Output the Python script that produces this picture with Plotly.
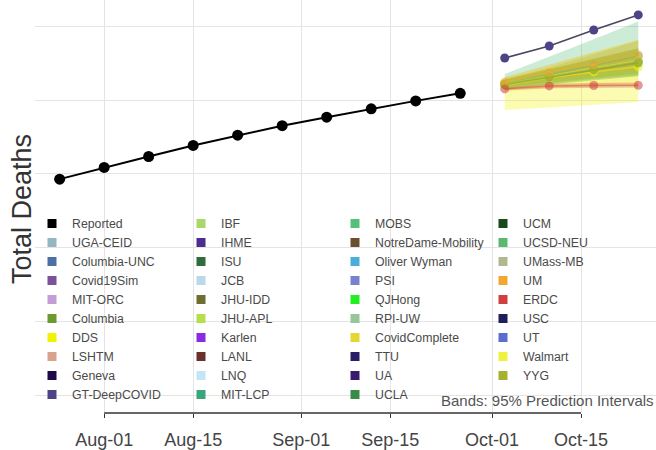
import plotly.graph_objects as go

# ---------------- data ----------------
reported_dates = ["2020-07-25", "2020-08-01", "2020-08-08", "2020-08-15", "2020-08-22",
                  "2020-08-29", "2020-09-05", "2020-09-12", "2020-09-19", "2020-09-26"]
reported_deaths = [146500, 154400, 161800, 169300, 176200, 182600, 188400, 194000, 199400, 204500]

forecast_dates = ["2020-10-03", "2020-10-10", "2020-10-17", "2020-10-24"]

fc_models = ["MOBS", "UCSD-NEU", "DDS", "Walmart", "Columbia", "YYG", "UM", "ERDC", "GT-DeepCOVID"]
fc_point = {
    "MOBS":        [211000, 217500, 223500, 229500],
    "UCSD-NEU":    [210500, 216000, 221000, 226000],
    "DDS":         [210000, 215000, 219000, 222500],
    "Walmart":     [211000, 216500, 221500, 226500],
    "Columbia":    [210500, 215500, 220500, 225000],
    "YYG":         [210800, 216000, 221000, 226000],
    "UM":          [212000, 218500, 224000, 230500],
    "ERDC":        [207500, 209500, 209800, 210000],
    "GT-DeepCOVID": [228400, 236500, 247300, 257500],
}
fc_lower = {
    "MOBS":     [207500, 211000, 214000, 216500],
    "UCSD-NEU": [208000, 211500, 214500, 217000],
    "DDS":      [193200, 195000, 197000, 198600],
    "Walmart":  [205500, 208000, 210000, 212000],
    "Columbia": [207000, 210500, 213500, 216000],
    "YYG":      [208500, 212000, 215000, 218000],
    "UM":       [209000, 213500, 217500, 221000],
    "ERDC":     [206500, 208000, 208200, 208500],
}
fc_upper = {
    "MOBS":     [217500, 229000, 241000, 253000],
    "UCSD-NEU": [214000, 222000, 231000, 240000],
    "DDS":      [214500, 222000, 228000, 234000],
    "Walmart":  [215000, 224000, 232500, 241000],
    "Columbia": [214000, 221000, 228000, 235000],
    "YYG":      [213500, 220500, 227500, 234500],
    "UM":       [215500, 224000, 232000, 240500],
    "ERDC":     [208500, 211000, 211500, 211800],
}

legend_columns = [
    ["Reported", "UGA-CEID", "Columbia-UNC", "Covid19Sim", "MIT-ORC", "Columbia", "DDS", "LSHTM", "Geneva", "GT-DeepCOVID"],
    ["IBF", "IHME", "ISU", "JCB", "JHU-IDD", "JHU-APL", "Karlen", "LANL", "LNQ", "MIT-LCP"],
    ["MOBS", "NotreDame-Mobility", "Oliver Wyman", "PSI", "QJHong", "RPI-UW", "CovidComplete", "TTU", "UA", "UCLA"],
    ["UCM", "UCSD-NEU", "UMass-MB", "UM", "ERDC", "USC", "UT", "Walmart", "YYG"],
]

model_colors = {
    "Reported": "#000000", "UGA-CEID": "#93b8c2", "Columbia-UNC": "#4c6fa6", "Covid19Sim": "#7b519b",
    "MIT-ORC": "#c49cd6", "Columbia": "#6b9a30", "DDS": "#f2f200", "LSHTM": "#d9a28c",
    "Geneva": "#1c0b48", "GT-DeepCOVID": "#4b4588",
    "IBF": "#a8d86a", "IHME": "#4b2d8f", "ISU": "#2f6b3b", "JCB": "#b9d8ea", "JHU-IDD": "#6e6e30",
    "JHU-APL": "#b5e04a", "Karlen": "#8a2be2", "LANL": "#6b302b", "LNQ": "#c3e5f5", "MIT-LCP": "#3ba67b",
    "MOBS": "#55c07a", "NotreDame-Mobility": "#6b5030", "Oliver Wyman": "#4aaed8", "PSI": "#7a80d0",
    "QJHong": "#22ee22", "RPI-UW": "#9ac49a", "CovidComplete": "#e6d630", "TTU": "#2a1e66",
    "UA": "#3a1a6e", "UCLA": "#3a8a4a",
    "UCM": "#1a4a1a", "UCSD-NEU": "#5ab870", "UMass-MB": "#b0b890", "UM": "#f0a830", "ERDC": "#d04040",
    "USC": "#1e1e5a", "UT": "#5a6ed0", "Walmart": "#f0f040", "YYG": "#a8b030",
}

x_ticks = ["2020-08-01", "2020-08-15", "2020-09-01", "2020-09-15", "2020-10-01", "2020-10-15"]
x_ticklabels = ["Aug-01", "Aug-15", "Sep-01", "Sep-15", "Oct-01", "Oct-15"]
y_grid = [0, 50000, 100000, 150000, 200000, 250000]


def rgba(hex_color, a):
    h = hex_color.lstrip("#")
    r, g, b = int(h[0:2], 16), int(h[2:4], 16), int(h[4:6], 16)
    return f"rgba({r},{g},{b},{a})"


FONT = "Liberation Sans, Arial, Helvetica, sans-serif"
fig = go.Figure()

# prediction bands
for m in fc_models:
    if m in fc_lower:
        fig.add_trace(go.Scatter(
            x=forecast_dates + forecast_dates[::-1],
            y=fc_upper[m] + fc_lower[m][::-1],
            fill="toself", fillcolor=rgba(model_colors[m], 0.3),
            line=dict(width=0), mode="lines", hoverinfo="skip", showlegend=False))

# forecast point lines
for m in fc_models:
    is_gt = m == "GT-DeepCOVID"
    fig.add_trace(go.Scatter(
        x=forecast_dates, y=fc_point[m], mode="lines+markers",
        line=dict(color="#4a4560" if is_gt else rgba(model_colors[m], 0.5), width=1.5),
        marker=dict(color=model_colors[m] if is_gt else rgba(model_colors[m], 0.55), size=9),
        name=m, showlegend=False))

# reported
fig.add_trace(go.Scatter(
    x=reported_dates, y=reported_deaths, mode="lines+markers",
    line=dict(color="#000000", width=2), marker=dict(color="#000000", size=11),
    name="Reported", showlegend=False))

# legend entries (4 column legends)
legend_ids = ["legend", "legend2", "legend3", "legend4"]
for col, names in enumerate(legend_columns):
    for nm in names:
        fig.add_trace(go.Scatter(
            x=[None], y=[None], mode="markers", name=nm,
            marker=dict(symbol="square", size=9, color=model_colors[nm]),
            legend=legend_ids[col], showlegend=True))

L, R, T, B = 35, 0, 0, 37
W, H = 656, 450
pw, ph = W - L - R, H - T - B
col_px = [32, 181, 335, 483]
legend_top_px = 209

legend_layout = {}
for i, lid in enumerate(legend_ids):
    legend_layout[lid] = dict(
        x=(col_px[i] - L) / pw, y=(ph - legend_top_px) / ph,
        xanchor="left", yanchor="top", orientation="v",
        bgcolor="rgba(0,0,0,0)", borderwidth=0,
        font=dict(family=FONT, size=12.3, color="#4a4a4a"),
        itemwidth=30, tracegroupgap=0, traceorder="normal")

fig.update_layout(
    width=W, height=H,
    margin=dict(l=L, r=R, t=T, b=B, pad=0),
    plot_bgcolor="white", paper_bgcolor="white",
    font=dict(family=FONT, color="#333333"),
    **legend_layout,
    xaxis=dict(
        range=["2020-07-21 03:00", "2020-10-26 19:00"],
        tickvals=x_ticks, ticktext=x_ticklabels,
        tickfont=dict(size=18, color="#444444"),
        showgrid=True, gridcolor="#e4e4e4", gridwidth=1,
        ticks="outside", ticklen=4, tickcolor="#333333", tickwidth=1.2,
        showline=False, zeroline=False, ticklabelstandoff=6),
    yaxis=dict(
        range=[-11600, 267600], tickvals=y_grid, showticklabels=False,
        showgrid=True, gridcolor="#e4e4e4", gridwidth=1, zeroline=False,
        ticks="", showline=False),
    shapes=[dict(type="line", xref="x", yref="paper", x0=x_ticks[0], x1=x_ticks[-1],
                 y0=0, y1=0, line=dict(color="#333333", width=1.5))],
    annotations=[
        dict(text="Total Deaths", xref="paper", yref="paper",
             x=(22 - L) / pw, y=(ph - 209) / ph, xanchor="center", yanchor="middle",
             textangle=-90, showarrow=False, font=dict(size=27, color="#333333")),
        dict(text="Bands: 95% Prediction Intervals", xref="paper", yref="paper",
             x=1.0, y=(413 - 400) / ph, xanchor="right", yanchor="middle",
             showarrow=False, font=dict(size=15, color="#555555")),
    ],
)

fig.write_html("out.html")
